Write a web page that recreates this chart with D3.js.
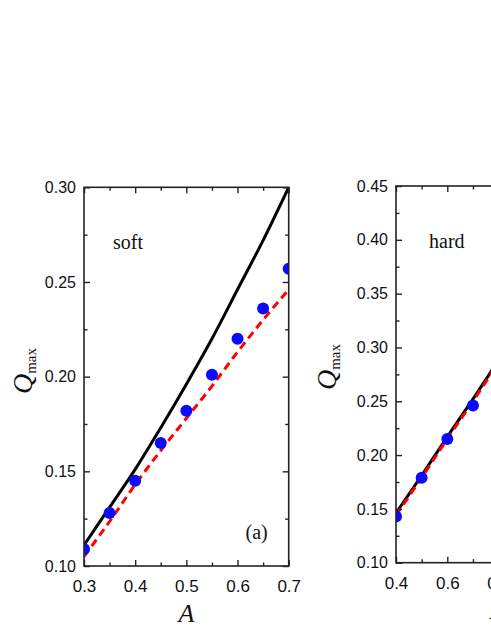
<!DOCTYPE html>
<html>
<head>
<meta charset="utf-8">
<script src="https://cdn.jsdelivr.net/npm/d3@7"></script>
<style>
  html, body { margin: 0; padding: 0; background: #fff; overflow: hidden; }
  svg { display: block; }
</style>
</head>
<body>
<svg id="chart" width="491" height="635"></svg>
<script>
// ---- Data ----
// Panel (a): soft
const softA       = [0.30, 0.35, 0.40, 0.45, 0.50, 0.55, 0.60, 0.65, 0.70];
const softDots    = [0.109, 0.128, 0.145, 0.165, 0.182, 0.201, 0.220, 0.236, 0.257];
const softSolid   = [0.111, 0.131, 0.151, 0.173, 0.196, 0.220, 0.246, 0.272, 0.300];
const softDashed  = [0.105, 0.1235, 0.143, 0.161, 0.178, 0.195, 0.213, 0.230, 0.246];
const softXTicks  = [0.3, 0.4, 0.5, 0.6, 0.7];
const softYTicks  = [0.10, 0.15, 0.20, 0.25, 0.30];

// Panel (b): hard (cut off at the right edge)
const hardA       = [0.4, 0.5, 0.6, 0.7, 0.8];
const hardDots    = [0.143, 0.179, 0.215, 0.246, 0.281];
const hardSolid   = [0.146, 0.181, 0.217, 0.252, 0.288];
const hardDashed  = [0.144, 0.179, 0.215, 0.250, 0.286];
const hardXTicks  = [0.4, 0.6, 0.8, 1.0, 1.2];
const hardYTicks  = [0.10, 0.15, 0.20, 0.25, 0.30, 0.35, 0.40, 0.45];

const svg = d3.select("#chart");

function fmt2(d) { return d3.format(".2f")(d); }
function fmt1(d) { return d3.format(".1f")(d); }

function panel(opt) {
  const x = d3.scaleLinear().domain(opt.xDomain).range([opt.left, opt.right]);
  const y = d3.scaleLinear().domain(opt.yDomain).range([opt.bottom, opt.top]);
  const g = svg.append("g");
  const clipId = "clip-" + opt.id;
  svg.append("clipPath").attr("id", clipId).append("rect")
    .attr("x", opt.left).attr("y", opt.top)
    .attr("width", opt.right - opt.left).attr("height", opt.bottom - opt.top);

  const plot = g.append("g").attr("clip-path", `url(#${clipId})`);

  const line = d3.line().x((d, i) => x(opt.xs[i])).y(d => y(d)).curve(d3.curveMonotoneX);
  plot.append("path").datum(opt.solid)
    .attr("d", line).attr("fill", "none")
    .attr("stroke", "#000").attr("stroke-width", 3);
  plot.append("path").datum(opt.dashed)
    .attr("d", line).attr("fill", "none")
    .attr("stroke", "#ff0000").attr("stroke-width", 3)
    .attr("stroke-dasharray", "8,5");
  plot.selectAll("circle").data(opt.dots).enter().append("circle")
    .attr("cx", (d, i) => x(opt.xs[i])).attr("cy", d => y(d))
    .attr("r", 6).attr("fill", "#0a0aff");

  const xMinor = [];
  for (let i = 0; i < opt.xTicks.length - 1; i++) xMinor.push((opt.xTicks[i] + opt.xTicks[i + 1]) / 2);
  const yMinor = [];
  for (let i = 0; i < opt.yTicks.length - 1; i++) yMinor.push((opt.yTicks[i] + opt.yTicks[i + 1]) / 2);

  const ax = g.append("g").attr("class", "axes");
  function styleAxis(sel) {
    sel.select(".domain").remove();
    sel.selectAll("line").attr("stroke", "#222").attr("stroke-width", 1.4);
  }
  const bottom = ax.append("g").attr("transform", `translate(0,${opt.bottom})`)
    .call(d3.axisBottom(x).tickValues(opt.xTicks).tickSize(-6).tickPadding(14).tickFormat(opt.xFmt));
  styleAxis(bottom);
  bottom.selectAll("text").attr("font-family", "'Liberation Sans', Arial, sans-serif")
    .attr("font-size", 17).attr("fill", "#111");
  ax.append("g").attr("transform", `translate(0,${opt.bottom})`)
    .call(d3.axisBottom(x).tickValues(xMinor).tickSize(-3.5).tickFormat(""))
    .call(styleAxis);
  ax.append("g").attr("transform", `translate(0,${opt.top})`)
    .call(d3.axisTop(x).tickValues(opt.xTicks).tickSize(-6).tickFormat(""))
    .call(styleAxis);
  ax.append("g").attr("transform", `translate(0,${opt.top})`)
    .call(d3.axisTop(x).tickValues(xMinor).tickSize(-3.5).tickFormat(""))
    .call(styleAxis);
  const left = ax.append("g").attr("transform", `translate(${opt.left},0)`)
    .call(d3.axisLeft(y).tickValues(opt.yTicks).tickSize(-6).tickPadding(8).tickFormat(fmt2));
  styleAxis(left);
  left.selectAll("text").attr("font-family", "'Liberation Sans', Arial, sans-serif")
    .attr("font-size", 16).attr("fill", "#111").attr("x", -8);
  ax.append("g").attr("transform", `translate(${opt.left},0)`)
    .call(d3.axisLeft(y).tickValues(yMinor).tickSize(-3.5).tickFormat(""))
    .call(styleAxis);
  ax.append("g").attr("transform", `translate(${opt.right},0)`)
    .call(d3.axisRight(y).tickValues(opt.yTicks).tickSize(-6).tickFormat(""))
    .call(styleAxis);
  ax.append("g").attr("transform", `translate(${opt.right},0)`)
    .call(d3.axisRight(y).tickValues(yMinor).tickSize(-3.5).tickFormat(""))
    .call(styleAxis);

  ax.append("rect").attr("x", opt.left).attr("y", opt.top)
    .attr("width", opt.right - opt.left).attr("height", opt.bottom - opt.top)
    .attr("fill", "none").attr("stroke", "#222").attr("stroke-width", 1.6);

  g.append("text").attr("x", opt.left + opt.nameDx).attr("y", opt.nameY)
    .attr("font-family", "'Liberation Serif', 'Times New Roman', serif")
    .attr("font-size", 20).attr("fill", "#111").text(opt.name);
  if (opt.tag) {
    g.append("text").attr("x", opt.right - 21).attr("y", opt.bottom - 27)
      .attr("text-anchor", "end")
      .attr("font-family", "'Liberation Serif', 'Times New Roman', serif")
      .attr("font-size", 20).attr("fill", "#111").text(opt.tag);
  }

  g.append("text").attr("x", (opt.left + opt.right) / 2).attr("y", opt.bottom + 56)
    .attr("text-anchor", "middle")
    .attr("font-family", "'Liberation Serif', 'Times New Roman', serif")
    .attr("font-style", "italic").attr("font-size", 26).attr("fill", "#111").text("A");

  const yt = g.append("text")
    .attr("transform", `translate(${opt.left - opt.yTitleDx},${opt.yTitleY}) rotate(-90)`)
    .attr("text-anchor", "middle")
    .attr("font-family", "'Liberation Serif', 'Times New Roman', serif")
    .attr("fill", "#111");
  yt.append("tspan").attr("font-style", "italic").attr("font-size", 28).text("Q");
  yt.append("tspan").attr("font-size", 15).attr("dy", 4).text("max");
}

panel({
  id: "soft", xs: softA, dots: softDots, solid: softSolid, dashed: softDashed,
  xDomain: [0.3, 0.7], yDomain: [0.10, 0.30],
  left: 84, right: 288.7, top: 187.3, bottom: 566,
  xTicks: softXTicks, yTicks: softYTicks, xFmt: fmt1,
  name: "soft", nameDx: 29, nameY: 249, tag: "(a)", yTitleY: 371, yTitleDx: 52
});

panel({
  id: "hard", xs: hardA, dots: hardDots, solid: hardSolid, dashed: hardDashed,
  xDomain: [0.4, 1.2], yDomain: [0.10, 0.45],
  left: 396, right: 601.2, top: 186, bottom: 562.7,
  xTicks: hardXTicks, yTicks: hardYTicks, xFmt: fmt1,
  name: "hard", nameDx: 33, nameY: 248, tag: null, yTitleY: 367, yTitleDx: 60
});
</script>
</body>
</html>
